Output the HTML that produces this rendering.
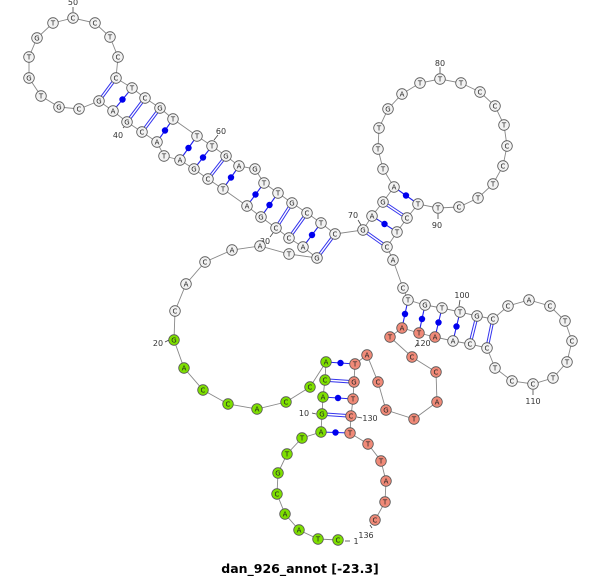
<!DOCTYPE html>
<html><head><meta charset="utf-8"><style>
html,body{margin:0;padding:0;background:#fff;}
svg{display:block;}
.n circle{stroke:#555;stroke-width:0.8;fill:#f2f2f2;}
.g circle{fill:#7ee000;}
.r circle{fill:#f08a78;}
text{font-family:"DejaVu Sans","Liberation Sans",sans-serif;}
.n text{font-size:7px;text-anchor:middle;fill:#222;}
.lb{font-size:8px;fill:#333;text-anchor:middle;}
</style></head><body>
<svg width="600" height="577" viewBox="0 0 600 577" xmlns="http://www.w3.org/2000/svg">
<polyline fill="none" stroke="#888" stroke-width="0.9" points="338,540 318,539 299,530 285,514 277,494 278,473 287,454 302,438 321,432 322,414 323,397 325,380 326,362 310,387 286,402 257,409 228,404 203,390 184,368 174,340 175,311 186,284 205,262 232,250 260,246 289,254 317,258 303,247 289,238 276,228 261,217 247,206 223,189 208,179 194,169 180,160 164,156 157,142 142,132 127,122 113,111 99,101 79,109 59,107 41,96 29,78 29,57 37,38 53,23 73,18 95,23 110,37 118,57 116,78 132,88 145,98 160,108 173,119 197,136 212,146 226,156 239,166 255,169 264,183 278,193 292,203 307,213 321,223 335,234 363,230 372,216 383,202 394,187 383,169 378,149 379,128 388,109 402,94 420,83 440,79 461,83 480,92 495,106 504,125 507,146 503,166 493,184 478,198 459,207 438,208 418,204 407,218 397,232 387,247 393,260 403,288 408,300 425,305 442,308 460,312 477,316 493,319 508,306 529,300 550,306 565,321 572,341 567,362 553,378 533,384 512,381 495,368 487,348 470,344 453,341 435,337 419,333 402,328 390,337 412,357 436,372 437,402 414,419 386,410 378,382 367,355 355,364 354,382 353,399 351,416 350,433 368,444 381,461 386,481 385,502 375,520"/>
<!-- double pairs -->
<g stroke="#3333ee" stroke-width="3.4">
<line x1="99" y1="101" x2="116" y2="78"/><line x1="127" y1="122" x2="145" y2="98"/><line x1="142" y1="132" x2="160" y2="108"/><line x1="208" y1="179" x2="226" y2="156"/><line x1="276" y1="228" x2="292" y2="203"/><line x1="289" y1="238" x2="307" y2="213"/><line x1="317" y1="258" x2="335" y2="234"/><line x1="363" y1="230" x2="387" y2="247"/><line x1="383" y1="202" x2="407" y2="218"/><line x1="477" y1="316" x2="470" y2="344"/><line x1="493" y1="319" x2="487" y2="348"/><line x1="322" y1="414" x2="351" y2="416"/><line x1="325" y1="380" x2="354" y2="382"/>
</g>
<g stroke="#fff" stroke-width="1.4">
<line x1="99" y1="101" x2="116" y2="78"/><line x1="127" y1="122" x2="145" y2="98"/><line x1="142" y1="132" x2="160" y2="108"/><line x1="208" y1="179" x2="226" y2="156"/><line x1="276" y1="228" x2="292" y2="203"/><line x1="289" y1="238" x2="307" y2="213"/><line x1="317" y1="258" x2="335" y2="234"/><line x1="363" y1="230" x2="387" y2="247"/><line x1="383" y1="202" x2="407" y2="218"/><line x1="477" y1="316" x2="470" y2="344"/><line x1="493" y1="319" x2="487" y2="348"/><line x1="322" y1="414" x2="351" y2="416"/><line x1="325" y1="380" x2="354" y2="382"/>
</g>
<!-- dot pairs -->
<g stroke="#2222ee" stroke-width="1.1">
<line x1="113" y1="111" x2="132" y2="88"/><line x1="157" y1="142" x2="173" y2="119"/><line x1="180" y1="160" x2="197" y2="136"/><line x1="194" y1="169" x2="212" y2="146"/><line x1="223" y1="189" x2="239" y2="166"/><line x1="247" y1="206" x2="264" y2="183"/><line x1="261" y1="217" x2="278" y2="193"/><line x1="303" y1="247" x2="321" y2="223"/><line x1="372" y1="216" x2="397" y2="232"/><line x1="394" y1="187" x2="418" y2="204"/><line x1="408" y1="300" x2="402" y2="328"/><line x1="425" y1="305" x2="419" y2="333"/><line x1="442" y1="308" x2="435" y2="337"/><line x1="460" y1="312" x2="453" y2="341"/><line x1="321" y1="432" x2="350" y2="433"/><line x1="323" y1="397" x2="353" y2="399"/><line x1="326" y1="362" x2="355" y2="364"/>
</g>
<g fill="#0000ee">
<circle cx="122.5" cy="99.5" r="3.2"/><circle cx="165" cy="130.5" r="3.2"/><circle cx="188.5" cy="148" r="3.2"/><circle cx="203" cy="157.5" r="3.2"/><circle cx="231" cy="177.5" r="3.2"/><circle cx="255.5" cy="194.5" r="3.2"/><circle cx="269.5" cy="205" r="3.2"/><circle cx="312" cy="235" r="3.2"/><circle cx="384.5" cy="224" r="3.2"/><circle cx="406" cy="195.5" r="3.2"/><circle cx="405" cy="314" r="3.2"/><circle cx="422" cy="319" r="3.2"/><circle cx="438.5" cy="322.5" r="3.2"/><circle cx="456.5" cy="326.5" r="3.2"/><circle cx="335.5" cy="432.5" r="3.2"/><circle cx="338" cy="398" r="3.2"/><circle cx="340.5" cy="363" r="3.2"/>
</g>
<!-- tick marks -->
<g stroke="#444" stroke-width="0.8">
<line x1="73" y1="7" x2="73" y2="12"/><line x1="123" y1="128" x2="126" y2="125"/><line x1="214" y1="140" x2="218" y2="135"/><line x1="270" y1="237" x2="273" y2="233"/><line x1="358" y1="220" x2="361" y2="225"/><line x1="440" y1="67" x2="440" y2="73"/><line x1="438" y1="214" x2="438" y2="219"/><line x1="460" y1="300" x2="459" y2="306"/><line x1="533" y1="390" x2="533" y2="395"/><line x1="415" y1="347" x2="418" y2="343"/><line x1="165" y1="342" x2="169" y2="340"/><line x1="312" y1="413" x2="316" y2="414"/><line x1="357" y1="417" x2="362" y2="418"/><line x1="345" y1="541" x2="350" y2="541"/><line x1="370" y1="525" x2="372" y2="528"/>
</g>
<g class="lb">
<text x="73" y="5">50</text><text x="118" y="138">40</text><text x="221" y="134">60</text><text x="265" y="244">30</text><text x="353" y="218">70</text><text x="440" y="66">80</text><text x="437" y="228">90</text><text x="462" y="298">100</text><text x="533" y="404">110</text><text x="423" y="346">120</text><text x="158" y="346">20</text><text x="304" y="416">10</text><text x="370" y="421">130</text><text x="356" y="544">1</text><text x="366" y="538">136</text>
</g>
<g class="n g">
<g><circle cx="338" cy="540" r="5.3"/><text x="338" y="542.5">C</text></g>
<g><circle cx="318" cy="539" r="5.3"/><text x="318" y="541.5">T</text></g>
<g><circle cx="299" cy="530" r="5.3"/><text x="299" y="532.5">A</text></g>
<g><circle cx="285" cy="514" r="5.3"/><text x="285" y="516.5">A</text></g>
<g><circle cx="277" cy="494" r="5.3"/><text x="277" y="496.5">C</text></g>
<g><circle cx="278" cy="473" r="5.3"/><text x="278" y="475.5">G</text></g>
<g><circle cx="287" cy="454" r="5.3"/><text x="287" y="456.5">T</text></g>
<g><circle cx="302" cy="438" r="5.3"/><text x="302" y="440.5">T</text></g>
<g><circle cx="321" cy="432" r="5.3"/><text x="321" y="434.5">A</text></g>
<g><circle cx="322" cy="414" r="5.3"/><text x="322" y="416.5">G</text></g>
<g><circle cx="323" cy="397" r="5.3"/><text x="323" y="399.5">A</text></g>
<g><circle cx="325" cy="380" r="5.3"/><text x="325" y="382.5">C</text></g>
<g><circle cx="326" cy="362" r="5.3"/><text x="326" y="364.5">A</text></g>
<g><circle cx="310" cy="387" r="5.3"/><text x="310" y="389.5">C</text></g>
<g><circle cx="286" cy="402" r="5.3"/><text x="286" y="404.5">C</text></g>
<g><circle cx="257" cy="409" r="5.3"/><text x="257" y="411.5">A</text></g>
<g><circle cx="228" cy="404" r="5.3"/><text x="228" y="406.5">C</text></g>
<g><circle cx="203" cy="390" r="5.3"/><text x="203" y="392.5">C</text></g>
<g><circle cx="184" cy="368" r="5.3"/><text x="184" y="370.5">A</text></g>
<g><circle cx="174" cy="340" r="5.3"/><text x="174" y="342.5">G</text></g>
</g>
<g class="n">
<g><circle cx="175" cy="311" r="5.3"/><text x="175" y="313.5">C</text></g>
<g><circle cx="186" cy="284" r="5.3"/><text x="186" y="286.5">A</text></g>
<g><circle cx="205" cy="262" r="5.3"/><text x="205" y="264.5">C</text></g>
<g><circle cx="232" cy="250" r="5.3"/><text x="232" y="252.5">A</text></g>
<g><circle cx="260" cy="246" r="5.3"/><text x="260" y="248.5">A</text></g>
<g><circle cx="289" cy="254" r="5.3"/><text x="289" y="256.5">T</text></g>
<g><circle cx="317" cy="258" r="5.3"/><text x="317" y="260.5">G</text></g>
<g><circle cx="303" cy="247" r="5.3"/><text x="303" y="249.5">A</text></g>
<g><circle cx="289" cy="238" r="5.3"/><text x="289" y="240.5">C</text></g>
<g><circle cx="276" cy="228" r="5.3"/><text x="276" y="230.5">C</text></g>
<g><circle cx="261" cy="217" r="5.3"/><text x="261" y="219.5">G</text></g>
<g><circle cx="247" cy="206" r="5.3"/><text x="247" y="208.5">A</text></g>
<g><circle cx="223" cy="189" r="5.3"/><text x="223" y="191.5">T</text></g>
<g><circle cx="208" cy="179" r="5.3"/><text x="208" y="181.5">C</text></g>
<g><circle cx="194" cy="169" r="5.3"/><text x="194" y="171.5">G</text></g>
<g><circle cx="180" cy="160" r="5.3"/><text x="180" y="162.5">A</text></g>
<g><circle cx="164" cy="156" r="5.3"/><text x="164" y="158.5">T</text></g>
<g><circle cx="157" cy="142" r="5.3"/><text x="157" y="144.5">A</text></g>
<g><circle cx="142" cy="132" r="5.3"/><text x="142" y="134.5">C</text></g>
<g><circle cx="127" cy="122" r="5.3"/><text x="127" y="124.5">G</text></g>
<g><circle cx="113" cy="111" r="5.3"/><text x="113" y="113.5">A</text></g>
<g><circle cx="99" cy="101" r="5.3"/><text x="99" y="103.5">G</text></g>
<g><circle cx="79" cy="109" r="5.3"/><text x="79" y="111.5">C</text></g>
<g><circle cx="59" cy="107" r="5.3"/><text x="59" y="109.5">G</text></g>
<g><circle cx="41" cy="96" r="5.3"/><text x="41" y="98.5">T</text></g>
<g><circle cx="29" cy="78" r="5.3"/><text x="29" y="80.5">G</text></g>
<g><circle cx="29" cy="57" r="5.3"/><text x="29" y="59.5">T</text></g>
<g><circle cx="37" cy="38" r="5.3"/><text x="37" y="40.5">G</text></g>
<g><circle cx="53" cy="23" r="5.3"/><text x="53" y="25.5">T</text></g>
<g><circle cx="73" cy="18" r="5.3"/><text x="73" y="20.5">C</text></g>
<g><circle cx="95" cy="23" r="5.3"/><text x="95" y="25.5">C</text></g>
<g><circle cx="110" cy="37" r="5.3"/><text x="110" y="39.5">T</text></g>
<g><circle cx="118" cy="57" r="5.3"/><text x="118" y="59.5">C</text></g>
<g><circle cx="116" cy="78" r="5.3"/><text x="116" y="80.5">C</text></g>
<g><circle cx="132" cy="88" r="5.3"/><text x="132" y="90.5">T</text></g>
<g><circle cx="145" cy="98" r="5.3"/><text x="145" y="100.5">C</text></g>
<g><circle cx="160" cy="108" r="5.3"/><text x="160" y="110.5">G</text></g>
<g><circle cx="173" cy="119" r="5.3"/><text x="173" y="121.5">T</text></g>
<g><circle cx="197" cy="136" r="5.3"/><text x="197" y="138.5">T</text></g>
<g><circle cx="212" cy="146" r="5.3"/><text x="212" y="148.5">T</text></g>
<g><circle cx="226" cy="156" r="5.3"/><text x="226" y="158.5">G</text></g>
<g><circle cx="239" cy="166" r="5.3"/><text x="239" y="168.5">A</text></g>
<g><circle cx="255" cy="169" r="5.3"/><text x="255" y="171.5">G</text></g>
<g><circle cx="264" cy="183" r="5.3"/><text x="264" y="185.5">T</text></g>
<g><circle cx="278" cy="193" r="5.3"/><text x="278" y="195.5">T</text></g>
<g><circle cx="292" cy="203" r="5.3"/><text x="292" y="205.5">G</text></g>
<g><circle cx="307" cy="213" r="5.3"/><text x="307" y="215.5">C</text></g>
<g><circle cx="321" cy="223" r="5.3"/><text x="321" y="225.5">T</text></g>
<g><circle cx="335" cy="234" r="5.3"/><text x="335" y="236.5">C</text></g>
<g><circle cx="363" cy="230" r="5.3"/><text x="363" y="232.5">G</text></g>
<g><circle cx="372" cy="216" r="5.3"/><text x="372" y="218.5">A</text></g>
<g><circle cx="383" cy="202" r="5.3"/><text x="383" y="204.5">G</text></g>
<g><circle cx="394" cy="187" r="5.3"/><text x="394" y="189.5">A</text></g>
<g><circle cx="383" cy="169" r="5.3"/><text x="383" y="171.5">T</text></g>
<g><circle cx="378" cy="149" r="5.3"/><text x="378" y="151.5">T</text></g>
<g><circle cx="379" cy="128" r="5.3"/><text x="379" y="130.5">T</text></g>
<g><circle cx="388" cy="109" r="5.3"/><text x="388" y="111.5">G</text></g>
<g><circle cx="402" cy="94" r="5.3"/><text x="402" y="96.5">A</text></g>
<g><circle cx="420" cy="83" r="5.3"/><text x="420" y="85.5">T</text></g>
<g><circle cx="440" cy="79" r="5.3"/><text x="440" y="81.5">T</text></g>
<g><circle cx="461" cy="83" r="5.3"/><text x="461" y="85.5">T</text></g>
<g><circle cx="480" cy="92" r="5.3"/><text x="480" y="94.5">C</text></g>
<g><circle cx="495" cy="106" r="5.3"/><text x="495" y="108.5">C</text></g>
<g><circle cx="504" cy="125" r="5.3"/><text x="504" y="127.5">T</text></g>
<g><circle cx="507" cy="146" r="5.3"/><text x="507" y="148.5">C</text></g>
<g><circle cx="503" cy="166" r="5.3"/><text x="503" y="168.5">C</text></g>
<g><circle cx="493" cy="184" r="5.3"/><text x="493" y="186.5">T</text></g>
<g><circle cx="478" cy="198" r="5.3"/><text x="478" y="200.5">T</text></g>
<g><circle cx="459" cy="207" r="5.3"/><text x="459" y="209.5">C</text></g>
<g><circle cx="438" cy="208" r="5.3"/><text x="438" y="210.5">T</text></g>
<g><circle cx="418" cy="204" r="5.3"/><text x="418" y="206.5">T</text></g>
<g><circle cx="407" cy="218" r="5.3"/><text x="407" y="220.5">C</text></g>
<g><circle cx="397" cy="232" r="5.3"/><text x="397" y="234.5">T</text></g>
<g><circle cx="387" cy="247" r="5.3"/><text x="387" y="249.5">C</text></g>
<g><circle cx="393" cy="260" r="5.3"/><text x="393" y="262.5">A</text></g>
<g><circle cx="403" cy="288" r="5.3"/><text x="403" y="290.5">C</text></g>
<g><circle cx="408" cy="300" r="5.3"/><text x="408" y="302.5">T</text></g>
<g><circle cx="425" cy="305" r="5.3"/><text x="425" y="307.5">G</text></g>
<g><circle cx="442" cy="308" r="5.3"/><text x="442" y="310.5">T</text></g>
<g><circle cx="460" cy="312" r="5.3"/><text x="460" y="314.5">T</text></g>
<g><circle cx="477" cy="316" r="5.3"/><text x="477" y="318.5">G</text></g>
<g><circle cx="493" cy="319" r="5.3"/><text x="493" y="321.5">C</text></g>
<g><circle cx="508" cy="306" r="5.3"/><text x="508" y="308.5">C</text></g>
<g><circle cx="529" cy="300" r="5.3"/><text x="529" y="302.5">A</text></g>
<g><circle cx="550" cy="306" r="5.3"/><text x="550" y="308.5">C</text></g>
<g><circle cx="565" cy="321" r="5.3"/><text x="565" y="323.5">T</text></g>
<g><circle cx="572" cy="341" r="5.3"/><text x="572" y="343.5">C</text></g>
<g><circle cx="567" cy="362" r="5.3"/><text x="567" y="364.5">T</text></g>
<g><circle cx="553" cy="378" r="5.3"/><text x="553" y="380.5">T</text></g>
<g><circle cx="533" cy="384" r="5.3"/><text x="533" y="386.5">C</text></g>
<g><circle cx="512" cy="381" r="5.3"/><text x="512" y="383.5">C</text></g>
<g><circle cx="495" cy="368" r="5.3"/><text x="495" y="370.5">T</text></g>
<g><circle cx="487" cy="348" r="5.3"/><text x="487" y="350.5">C</text></g>
<g><circle cx="470" cy="344" r="5.3"/><text x="470" y="346.5">C</text></g>
<g><circle cx="453" cy="341" r="5.3"/><text x="453" y="343.5">A</text></g>
</g>
<g class="n r">
<g><circle cx="435" cy="337" r="5.3"/><text x="435" y="339.5">A</text></g>
<g><circle cx="419" cy="333" r="5.3"/><text x="419" y="335.5">T</text></g>
<g><circle cx="402" cy="328" r="5.3"/><text x="402" y="330.5">A</text></g>
<g><circle cx="390" cy="337" r="5.3"/><text x="390" y="339.5">T</text></g>
<g><circle cx="412" cy="357" r="5.3"/><text x="412" y="359.5">C</text></g>
<g><circle cx="436" cy="372" r="5.3"/><text x="436" y="374.5">C</text></g>
<g><circle cx="437" cy="402" r="5.3"/><text x="437" y="404.5">A</text></g>
<g><circle cx="414" cy="419" r="5.3"/><text x="414" y="421.5">T</text></g>
<g><circle cx="386" cy="410" r="5.3"/><text x="386" y="412.5">G</text></g>
<g><circle cx="378" cy="382" r="5.3"/><text x="378" y="384.5">C</text></g>
<g><circle cx="367" cy="355" r="5.3"/><text x="367" y="357.5">A</text></g>
<g><circle cx="355" cy="364" r="5.3"/><text x="355" y="366.5">T</text></g>
<g><circle cx="354" cy="382" r="5.3"/><text x="354" y="384.5">G</text></g>
<g><circle cx="353" cy="399" r="5.3"/><text x="353" y="401.5">T</text></g>
<g><circle cx="351" cy="416" r="5.3"/><text x="351" y="418.5">C</text></g>
<g><circle cx="350" cy="433" r="5.3"/><text x="350" y="435.5">T</text></g>
<g><circle cx="368" cy="444" r="5.3"/><text x="368" y="446.5">T</text></g>
<g><circle cx="381" cy="461" r="5.3"/><text x="381" y="463.5">T</text></g>
<g><circle cx="386" cy="481" r="5.3"/><text x="386" y="483.5">A</text></g>
<g><circle cx="385" cy="502" r="5.3"/><text x="385" y="504.5">T</text></g>
<g><circle cx="375" cy="520" r="5.3"/><text x="375" y="522.5">C</text></g>
</g>
<text x="300" y="573" font-size="12.5" font-weight="bold" text-anchor="middle" fill="#000">dan_926_annot [-23.3]</text>
</svg>
</body></html>
